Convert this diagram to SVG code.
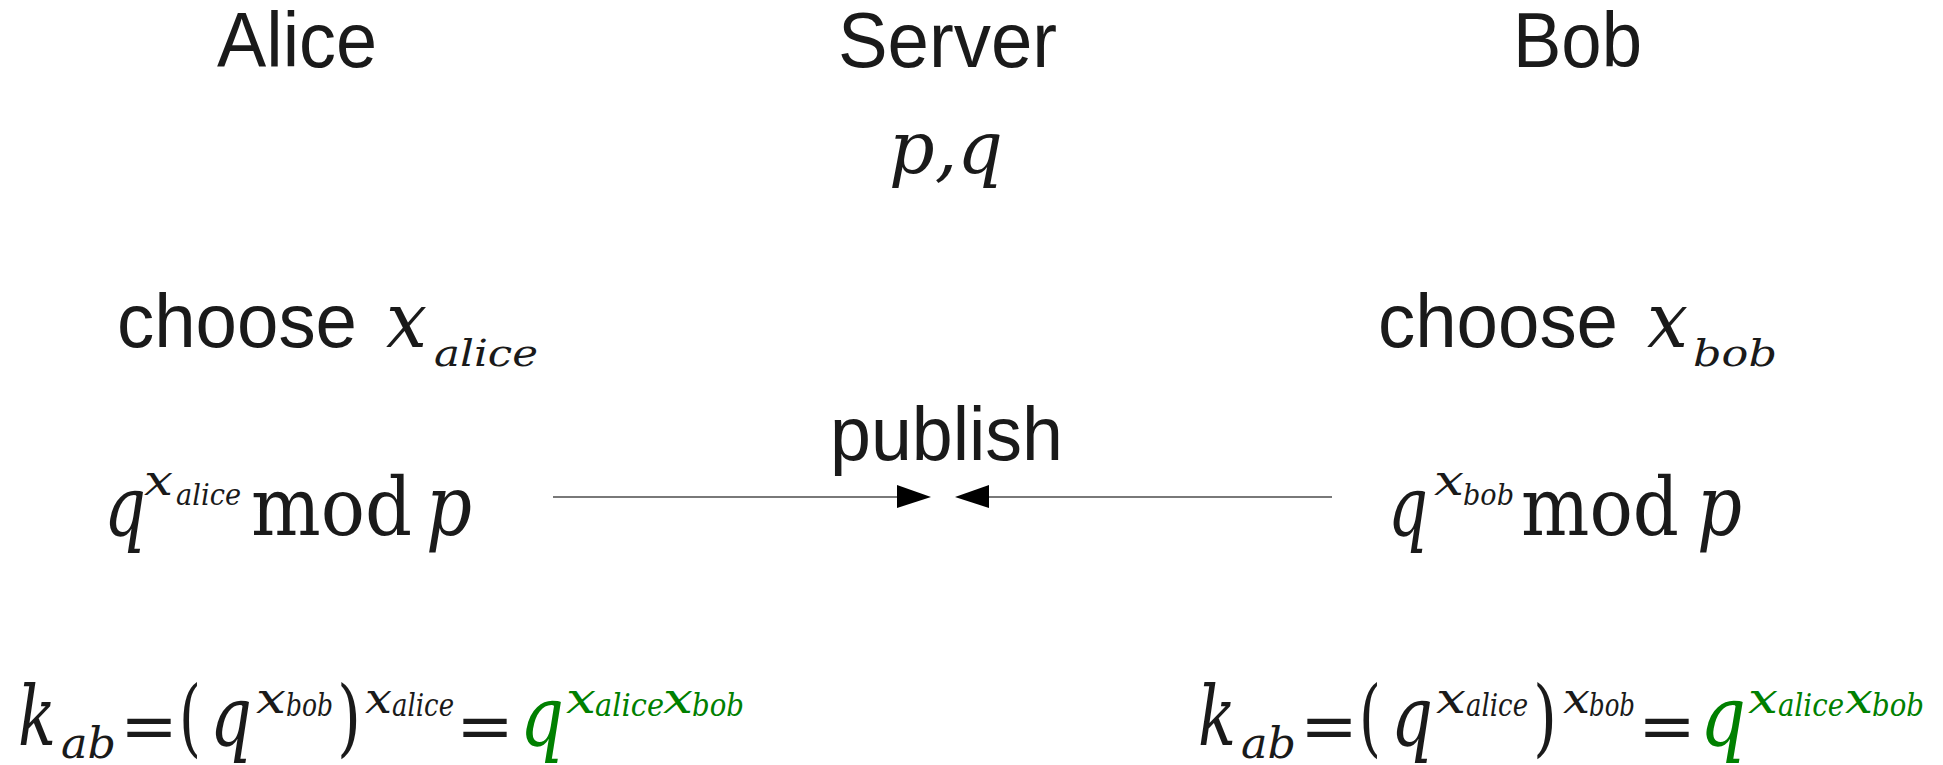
<svg xmlns="http://www.w3.org/2000/svg" width="1943" height="765" viewBox="0 0 1943 765">
<style>
.s{font-family:"Liberation Sans",Arial,sans-serif;fill:#1a1a1a}
.m{font-family:"DejaVu Serif",serif;fill:#1a1a1a}
.i{font-style:italic}
.g{fill:#008000}
.eq{font-family:"DejaVu Serif",serif;fill:#1a1a1a;font-size:66px}
.ln{stroke:#4d4d4d;stroke-width:1.3;fill:none}
.ah{fill:#000}
</style>
<rect width="1943" height="765" fill="#fff"/>
<g id="alice-title"><text class="s" x="217" y="67" font-size="77" textLength="160" lengthAdjust="spacingAndGlyphs">Alice</text></g>
<g id="server-title"><text class="s" x="838" y="67" font-size="77" textLength="219" lengthAdjust="spacingAndGlyphs">Server</text></g>
<g id="bob-title"><text class="s" x="1513" y="67" font-size="77" textLength="129" lengthAdjust="spacingAndGlyphs">Bob</text></g>
<g id="server-params"><text class="m i" x="889" y="173" font-size="72" textLength="114" lengthAdjust="spacingAndGlyphs">p,q</text></g>
<g id="alice-choose">
<text class="s" x="117" y="347" font-size="76" textLength="240" lengthAdjust="spacingAndGlyphs">choose</text>
<text class="m i" x="386" y="347" font-size="77" textLength="41" lengthAdjust="spacingAndGlyphs">x</text>
<text class="m i" x="434" y="366" font-size="38" textLength="104" lengthAdjust="spacingAndGlyphs">alice</text>
</g>
<g id="bob-choose">
<text class="s" x="1378" y="347" font-size="76" textLength="240" lengthAdjust="spacingAndGlyphs">choose</text>
<text class="m i" x="1647" y="347" font-size="77" textLength="41" lengthAdjust="spacingAndGlyphs">x</text>
<text class="m i" x="1693" y="366" font-size="38" textLength="84" lengthAdjust="spacingAndGlyphs">bob</text>
</g>
<g id="alice-public">
<text class="m i" x="104" y="535" font-size="84" textLength="42" lengthAdjust="spacingAndGlyphs">q</text>
<text class="m i" x="144" y="495" font-size="42" textLength="29" lengthAdjust="spacingAndGlyphs">x</text>
<text class="m i" x="176" y="505" font-size="29" textLength="65" lengthAdjust="spacingAndGlyphs">alice</text>
<text class="m" x="251" y="535" font-size="80" textLength="161" lengthAdjust="spacingAndGlyphs">mod</text>
<text class="m i" x="426" y="535" font-size="84" textLength="46" lengthAdjust="spacingAndGlyphs">p</text>
</g>
<g id="bob-public">
<text class="m i" x="1388" y="535" font-size="84" textLength="40" lengthAdjust="spacingAndGlyphs">q</text>
<text class="m i" x="1434" y="495" font-size="42" textLength="30" lengthAdjust="spacingAndGlyphs">x</text>
<text class="m i" x="1463" y="505" font-size="29" textLength="51" lengthAdjust="spacingAndGlyphs">bob</text>
<text class="m" x="1521" y="535" font-size="80" textLength="158" lengthAdjust="spacingAndGlyphs">mod</text>
<text class="m i" x="1697" y="535" font-size="84" textLength="45" lengthAdjust="spacingAndGlyphs">p</text>
</g>
<g id="publish-label"><text class="s" x="830" y="460" font-size="76" textLength="233" lengthAdjust="spacingAndGlyphs">publish</text></g>
<g id="connectors">
<line class="ln" x1="553" y1="497" x2="899" y2="497"/>
<polygon class="ah" points="897,485 931,497 897,508"/>
<line class="ln" x1="987" y1="497" x2="1332" y2="497"/>
<polygon class="ah" points="989,485 955,497 989,508"/>
</g>
<g id="alice-key">
<text class="m i" x="18" y="745" font-size="82" textLength="38" lengthAdjust="spacingAndGlyphs">k</text>
<text class="m i" x="61" y="758" font-size="42" textLength="55" lengthAdjust="spacingAndGlyphs">ab</text>
<text class="eq" x="120" y="748" textLength="58" lengthAdjust="spacingAndGlyphs">=</text>
<text class="m" x="179" y="746" font-size="84" textLength="22" lengthAdjust="spacingAndGlyphs">(</text>
<text class="m i" x="210" y="745" font-size="84" textLength="42" lengthAdjust="spacingAndGlyphs">q</text>
<text class="m i" x="256" y="713" font-size="42" textLength="30" lengthAdjust="spacingAndGlyphs">x</text>
<text class="m i" x="286" y="716" font-size="31" textLength="47" lengthAdjust="spacingAndGlyphs">bob</text>
<text class="m" x="337" y="746" font-size="84" textLength="24" lengthAdjust="spacingAndGlyphs">)</text>
<text class="m i" x="365" y="713" font-size="42" textLength="27" lengthAdjust="spacingAndGlyphs">x</text>
<text class="m i" x="392" y="716" font-size="31" textLength="62" lengthAdjust="spacingAndGlyphs">alice</text>
<text class="eq" x="456" y="748" textLength="58" lengthAdjust="spacingAndGlyphs">=</text>
<text class="m i g" x="520" y="745" font-size="84" textLength="44" lengthAdjust="spacingAndGlyphs">q</text>
<text class="m i g" x="566" y="713" font-size="42" textLength="30" lengthAdjust="spacingAndGlyphs">x</text>
<text class="m i g" x="595" y="716" font-size="31" textLength="69" lengthAdjust="spacingAndGlyphs">alice</text>
<text class="m i g" x="663" y="713" font-size="42" textLength="30" lengthAdjust="spacingAndGlyphs">x</text>
<text class="m i g" x="692" y="716" font-size="31" textLength="52" lengthAdjust="spacingAndGlyphs">bob</text>
</g>
<g id="bob-key">
<text class="m i" x="1198" y="745" font-size="82" textLength="38" lengthAdjust="spacingAndGlyphs">k</text>
<text class="m i" x="1241" y="758" font-size="42" textLength="55" lengthAdjust="spacingAndGlyphs">ab</text>
<text class="eq" x="1300" y="748" textLength="58" lengthAdjust="spacingAndGlyphs">=</text>
<text class="m" x="1359" y="746" font-size="84" textLength="22" lengthAdjust="spacingAndGlyphs">(</text>
<text class="m i" x="1391" y="745" font-size="84" textLength="42" lengthAdjust="spacingAndGlyphs">q</text>
<text class="m i" x="1436" y="713" font-size="42" textLength="30" lengthAdjust="spacingAndGlyphs">x</text>
<text class="m i" x="1466" y="716" font-size="31" textLength="62" lengthAdjust="spacingAndGlyphs">alice</text>
<text class="m" x="1533" y="746" font-size="84" textLength="24" lengthAdjust="spacingAndGlyphs">)</text>
<text class="m i" x="1563" y="713" font-size="42" textLength="27" lengthAdjust="spacingAndGlyphs">x</text>
<text class="m i" x="1589" y="716" font-size="31" textLength="46" lengthAdjust="spacingAndGlyphs">bob</text>
<text class="eq" x="1638" y="748" textLength="58" lengthAdjust="spacingAndGlyphs">=</text>
<text class="m i g" x="1700" y="745" font-size="84" textLength="46" lengthAdjust="spacingAndGlyphs">q</text>
<text class="m i g" x="1748" y="713" font-size="42" textLength="30" lengthAdjust="spacingAndGlyphs">x</text>
<text class="m i g" x="1778" y="716" font-size="31" textLength="66" lengthAdjust="spacingAndGlyphs">alice</text>
<text class="m i g" x="1845" y="713" font-size="42" textLength="28" lengthAdjust="spacingAndGlyphs">x</text>
<text class="m i g" x="1872" y="716" font-size="31" textLength="52" lengthAdjust="spacingAndGlyphs">bob</text>
</g>
</svg>
